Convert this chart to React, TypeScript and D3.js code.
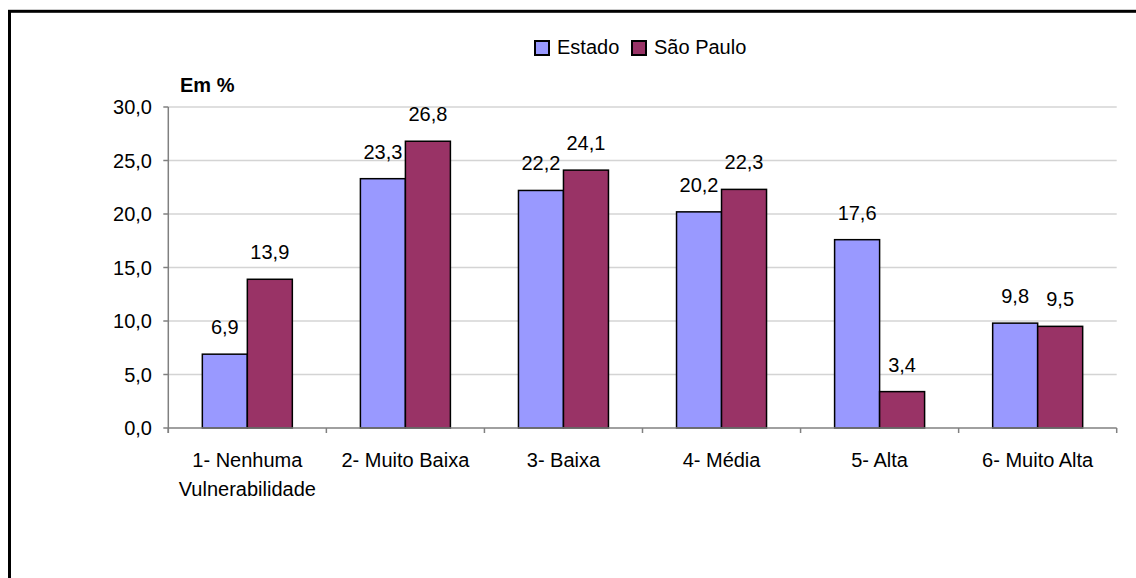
import React from "react";
import * as d3 from "d3";

const categories = [
  ["1- Nenhuma", "Vulnerabilidade"],
  ["2- Muito Baixa"],
  ["3- Baixa"],
  ["4- Média"],
  ["5- Alta"],
  ["6- Muito Alta"],
];
const seriesNames = ["Estado", "São Paulo"];
const estado = [6.9, 23.3, 22.2, 20.2, 17.6, 9.8];
const saoPaulo = [13.9, 26.8, 24.1, 22.3, 3.4, 9.5];
const yTicks = [0, 5, 10, 15, 20, 25, 30];
const colors = ["#9999FF", "#993366"];

const W = 1136;
const H = 578;
const FONT = "'Liberation Sans', Arial, sans-serif";
const fmt = (v: number) => v.toFixed(1).replace(".", ",");

export default function App() {
  const left = 168.3;
  const right = 1116.7;
  const top = 107;
  const bottom = 428;

  const x = d3
    .scaleBand<number>()
    .domain(d3.range(categories.length))
    .range([left, right])
    .paddingInner(0)
    .paddingOuter(0);
  const y = d3.scaleLinear().domain([0, 30]).range([bottom, top]);
  const barW = 45;
  const series = [estado, saoPaulo];

  return (
    <svg
      width={W}
      height={H}
      style={{ position: "absolute", left: 0, top: 0, background: "#fff" }}
      fontFamily={FONT}
    >
      <rect x={0} y={0} width={W} height={H} fill="#fff" />
      {/* outer frame */}
      <rect x={9.5} y={11.3} width={1300} height={800} fill="none" stroke="#000" strokeWidth={3} />

      {/* gridlines */}
      {yTicks.slice(1).map((t) => (
        <line key={t} x1={left} x2={right} y1={y(t)} y2={y(t)} stroke="#d4d4d4" strokeWidth={1.5} />
      ))}

      {/* bars */}
      {series.map((vals, si) =>
        vals.map((v, i) => {
          const cx = (x(i) as number) + x.bandwidth() / 2;
          const bx = cx - barW + si * barW;
          return (
            <g key={`${si}-${i}`}>
              <rect
                x={bx}
                y={y(v)}
                width={barW}
                height={bottom - y(v)}
                fill={colors[si]}
                stroke="#000"
                strokeWidth={1.5}
              />
              <text
                x={bx + barW / 2}
                y={y(v) - 20}
                textAnchor="middle"
                fontSize={20}
                fill="#000"
              >
                {fmt(v)}
              </text>
            </g>
          );
        })
      )}

      {/* y axis */}
      <line x1={left} x2={left} y1={top} y2={bottom + 5} stroke="#808080" strokeWidth={1.5} />
      {yTicks.map((t) => (
        <g key={t}>
          <line x1={left - 5} x2={left} y1={y(t)} y2={y(t)} stroke="#808080" strokeWidth={1.5} />
          <text x={152} y={y(t) + 7} textAnchor="end" fontSize={20} fill="#000">
            {fmt(t)}
          </text>
        </g>
      ))}

      {/* x axis */}
      <line x1={left} x2={right} y1={bottom} y2={bottom} stroke="#808080" strokeWidth={1.5} />
      {d3.range(categories.length + 1).map((i) => {
        const xx = i < categories.length ? (x(i) as number) : right;
        return <line key={i} x1={xx} x2={xx} y1={bottom} y2={bottom + 5} stroke="#808080" strokeWidth={1.5} />;
      })}
      {categories.map((lines, i) => (
        <text
          key={i}
          x={(x(i) as number) + x.bandwidth() / 2}
          textAnchor="middle"
          fontSize={20}
          fill="#000"
        >
          {lines.map((l, j) => (
            <tspan key={j} x={(x(i) as number) + x.bandwidth() / 2} y={467 + j * 28.5}>
              {l}
            </tspan>
          ))}
        </text>
      ))}

      {/* unit label */}
      <text x={180} y={92} fontSize={20} fontWeight="bold" fill="#000">
        Em %
      </text>

      {/* legend */}
      {seriesNames.map((n, i) => {
        const lx = [535, 632][i];
        return (
          <g key={n}>
            <rect x={lx} y={41} width={14} height={14} fill={colors[i]} stroke="#000" strokeWidth={2} />
            <text x={lx + 22} y={54} fontSize={20} fill="#000">
              {n}
            </text>
          </g>
        );
      })}
    </svg>
  );
}
